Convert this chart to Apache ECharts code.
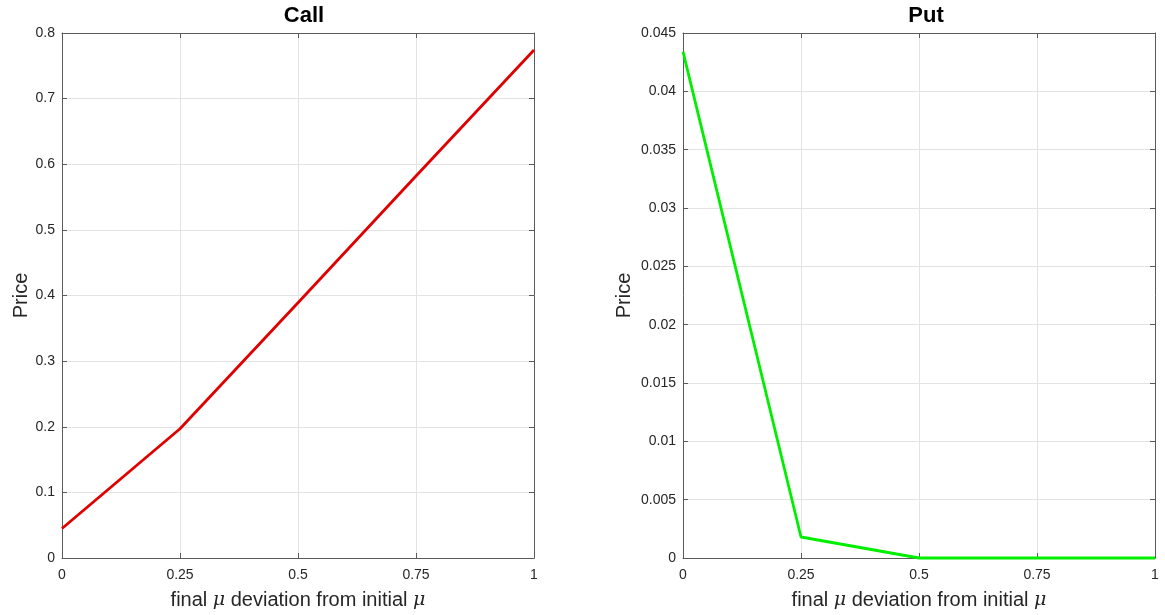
<!DOCTYPE html>
<html><head><meta charset="utf-8">
<script src="https://cdn.jsdelivr.net/npm/echarts@6/dist/echarts.min.js"></script>
<style>html,body{margin:0;padding:0;background:#fff}#c{width:1165px;height:615px}</style>
</head><body><div id="c"></div>
<script>
const xValues = [0, 0.25, 0.5, 0.75, 1];
const callPrices = [0.045, 0.197, 0.389, 0.582, 0.774];
const putPrices = [0.0434, 0.0018, 0, 0, 0];
const titles = ['Call', 'Put'];
const xName = 'final {i|μ} deviation from initial {i|μ}';
const yName = 'Price';

const font = 'Liberation Sans, Arial, Helvetica, sans-serif';
const axisColor = '#5a5a5a';
const labelColor = '#262626';

function pairs(xs, ys) { return xs.map((x, i) => [x, ys[i]]); }

const grids = [
  {left: 62, right: 631, top: 33, bottom: 56},
  {left: 683, right: 10, top: 33, bottom: 56}
];
const yCfg = [
  {min: 0, max: 0.8, interval: 0.1, nameGap: 31},
  {min: 0, max: 0.045, interval: 0.005, nameGap: 49}
];

const xAxes = [], yAxes = [];
grids.forEach((g, i) => {
  xAxes.push({
    type: 'value', gridIndex: i, min: 0, max: 1, interval: 0.25,
    name: xName, nameLocation: 'middle', nameGap: 32,
    nameTextStyle: {fontFamily: font, fontSize: 20, color: labelColor,
      rich: {i: {fontFamily: 'DejaVu Serif, serif', fontStyle: 'italic', fontSize: 19, color: labelColor}}},
    axisLine: {show: true, onZero: false, lineStyle: {color: axisColor, width: 1}},
    axisTick: {show: true, inside: true, length: 5, lineStyle: {color: axisColor}},
    axisLabel: {color: labelColor, fontFamily: font, fontSize: 14, margin: 10,
      formatter: v => String(+v.toFixed(4))},
    splitLine: {show: true, lineStyle: {color: '#e3e3e3', width: 1}}
  });
  xAxes.push({
    type: 'value', gridIndex: i, min: 0, max: 1, interval: 0.25, position: 'top',
    axisLine: {show: true, onZero: false, lineStyle: {color: axisColor, width: 1}},
    axisTick: {show: true, inside: true, length: 5, lineStyle: {color: axisColor}},
    axisLabel: {show: false}, splitLine: {show: false}
  });
  yAxes.push({
    type: 'value', gridIndex: i, min: yCfg[i].min, max: yCfg[i].max, interval: yCfg[i].interval,
    name: yName, nameLocation: 'middle', nameGap: yCfg[i].nameGap,
    nameTextStyle: {fontFamily: font, fontSize: 20, color: labelColor},
    axisLine: {show: true, onZero: false, lineStyle: {color: axisColor, width: 1}},
    axisTick: {show: true, inside: true, length: 5, lineStyle: {color: axisColor}},
    axisLabel: {color: labelColor, fontFamily: font, fontSize: 14, margin: 7,
      formatter: v => String(+v.toFixed(4))},
    splitLine: {show: true, lineStyle: {color: '#e3e3e3', width: 1}}
  });
  yAxes.push({
    type: 'value', gridIndex: i, min: yCfg[i].min, max: yCfg[i].max, interval: yCfg[i].interval, position: 'right',
    axisLine: {show: true, onZero: false, lineStyle: {color: axisColor, width: 1}},
    axisTick: {show: true, inside: true, length: 5, lineStyle: {color: axisColor}},
    axisLabel: {show: false}, splitLine: {show: false}
  });
});

const option = {
  backgroundColor: '#fff',
  animation: false,
  title: titles.map((t, i) => ({
    text: t, left: i === 0 ? 299 : 921, top: 0, textAlign: 'center',
    textStyle: {fontFamily: font, fontSize: 22, fontWeight: 'bold', color: '#000'}
  })),
  grid: grids,
  xAxis: xAxes,
  yAxis: yAxes,
  series: [
    {type: 'line', xAxisIndex: 0, yAxisIndex: 0, data: pairs(xValues, callPrices),
      showSymbol: false, lineStyle: {color: '#e00000', width: 2.8}, clip: false},
    {type: 'line', xAxisIndex: 2, yAxisIndex: 2, data: pairs(xValues, putPrices),
      showSymbol: false, lineStyle: {color: '#00ee00', width: 2.8}, clip: false}
  ]
};
echarts.init(document.getElementById('c'), null, {renderer: 'canvas'}).setOption(option);
</script></body></html>
